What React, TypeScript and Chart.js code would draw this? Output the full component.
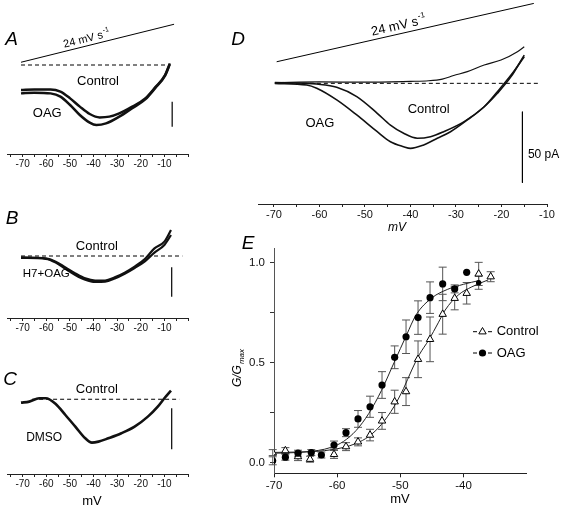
import React, { useEffect, useRef } from "react";
import { Chart, registerables } from "chart.js";

Chart.register(...registerables);

type Pt = [number, number];
const FONT = '"Liberation Sans", Arial, Helvetica, sans-serif';

// ---------- Panel A : current (pA) vs ramp potential (mV) ----------
const A_CONTROL: Pt[] = [
  [-70.7, -20], [-65, -19.5], [-58.2, -19.5], [-54, -21.3], [-49.9, -26.7], [-45.8, -33.3],
  [-41.6, -39.2], [-37.4, -41.9], [-33.3, -41.3], [-29.1, -38.7], [-23.6, -33.3], [-18.1, -26.7],
  [-13.9, -17.9], [-9.7, -8], [-7.7, 1.3],
];
const A_OAG: Pt[] = [
  [-70.7, -22.7], [-65, -22.1], [-58.2, -22.7], [-54, -25.3], [-49.9, -32], [-45.8, -40],
  [-41.6, -46.1], [-38.8, -48], [-34.7, -46.7], [-29.1, -41.3], [-23.6, -34.5], [-18.1, -27.5],
  [-13.9, -18.5], [-9.7, -8.5], [-7.7, 0.5],
];
const A_BASELINE: Pt[] = [[-70.7, 0], [-8.4, 0]];
const A_RAMP: Pt[] = [[-70.7, 2.2], [-5.9, 32.6]];
const A_SCALEBAR: Pt[] = [[-6.7, -29.4], [-6.7, -49.4]];

// ---------- Panel B ----------
const B_CONTROL: Pt[] = [
  [-70.7, -1.1], [-60.2, -1.9], [-56, -4.5], [-51.9, -9.1], [-47.7, -13.9], [-43.5, -17.9],
  [-39.3, -19.6], [-35.1, -19.6], [-31, -17.1], [-26.8, -13.3], [-22.6, -8.5], [-18.4, -2.7],
  [-14.2, 6.1], [-10, 11.5], [-7.2, 20.8],
];
const B_H7_OAG: Pt[] = [
  [-70.7, -1.5], [-60.2, -2.3], [-56, -5.2], [-51.9, -10.3], [-47.7, -15.2], [-43.5, -19],
  [-39.3, -20.8], [-35.1, -20.6], [-31, -18], [-26.8, -14.2], [-22.6, -9.6], [-18.4, -4.5],
  [-14.2, 2.7], [-10, 8.8], [-7.2, 16.8],
];
const B_BASELINE: Pt[] = [[-70.7, 0], [-2.4, 0]];
const B_SCALEBAR: Pt[] = [[-6.9, -9], [-6.9, -32.6]];

// ---------- Panel C ----------
const C_DMSO: Pt[] = [
  [-70.7, -2.7], [-67.2, -1.9], [-63, 0.8], [-60.2, 0.8], [-56, -3.8], [-51.9, -12.6],
  [-47.7, -21.9], [-43.5, -31.2], [-40.7, -34.7], [-37.9, -33.9], [-33.7, -31.2], [-28.2, -27.2],
  [-22.6, -21.9], [-17, -13.9], [-12.8, -5.9], [-10, 0.8], [-7.2, 6.9],
];
const C_BASELINE: Pt[] = [[-66, 0], [-3.7, 0]];
const C_SCALEBAR: Pt[] = [[-6.9, -7.2], [-6.9, -40]];

// ---------- Panel D ----------
const D_CONTROL: Pt[] = [
  [-69.8, 0.5], [-62.8, 0], [-60.6, -0.5], [-56.2, -2.8], [-51.8, -9.4], [-47.3, -21.1],
  [-44.4, -29.4], [-41.5, -35.2], [-38.5, -38.7], [-35.6, -37.6], [-32.7, -34.1], [-28.2, -27],
  [-23.8, -16.5], [-20.9, -7], [-17.9, 4.7], [-15.0, 19.9],
];
const D_OAG: Pt[] = [
  [-69.8, 0], [-62.8, -1.2], [-60.6, -3.5], [-56.2, -11.7], [-51.8, -22.3], [-47.3, -34.1],
  [-44.4, -41.1], [-41.5, -44.6], [-40.0, -45.8], [-37.1, -43.4], [-34.1, -38.7], [-31.2, -34.1],
  [-27.5, -25.8], [-23.8, -16.5], [-20.9, -5.9], [-17.9, 5.8], [-15.0, 18.7],
];
const D_UPPER: Pt[] = [
  [-69.8, 0.5], [-60, 1], [-50, 0.8], [-40, 1.4], [-36, 1.8], [-33, 3], [-30.5, 5.5], [-27.5, 8.2],
  [-23.8, 12.9], [-20.1, 16.4], [-16.5, 22.3], [-15.0, 25.8],
];
const D_BASELINE: Pt[] = [[-69.8, 0], [-11.7, 0]];
const D_RAMP: Pt[] = [[-69.4, 15.2], [-12.9, 56.3]];
const D_SCALEBAR: Pt[] = [[-15.4, -20], [-15.4, -70]];

// ---------- Panel E : G/Gmax vs mV ----------
const E_CTRL_MV = [-70.2, -68.2, -66.2, -64.3, -60.5, -58.6, -56.7, -54.8, -52.9, -50.9, -49.1, -47.2, -45.3, -43.3, -41.4, -39.5, -37.6, -35.7];
const E_CTRL_G = [0.049, 0.059, 0.029, 0.016, 0.04, 0.079, 0.103, 0.137, 0.208, 0.304, 0.355, 0.517, 0.617, 0.743, 0.823, 0.848, 0.945, 0.931];
const E_CTRL_SEM = [0.015, 0.015, 0.02, 0.015, 0.02, 0.02, 0.02, 0.029, 0.042, 0.058, 0.07, 0.092, 0.112, 0.1, 0.058, 0.054, 0.058, 0.025];
const E_OAG_MV = [-70.2, -68.2, -66.2, -64.1, -62.5, -60.5, -58.6, -56.7, -54.8, -52.9, -50.9, -49.1, -47.2, -45.3, -43.3, -41.4, -39.5, -37.6];
const E_OAG_G = [0.008, 0.026, 0.046, 0.049, 0.037, 0.087, 0.149, 0.218, 0.279, 0.388, 0.527, 0.63, 0.726, 0.826, 0.895, 0.87, 0.953, 0.901];
const E_OAG_SEM = [0.02, 0.015, 0.015, 0.015, 0.015, 0.02, 0.02, 0.042, 0.053, 0.067, 0.057, 0.084, 0.084, 0.079, 0.084, 0.02, 0, 0.033];
const E_OAG_FIT: Pt[] = [
  [-70, 0.046], [-66, 0.05], [-63, 0.06], [-61, 0.075], [-59, 0.105], [-57, 0.16], [-55, 0.245],
  [-53, 0.36], [-51, 0.5], [-49, 0.64], [-47.5, 0.74], [-45, 0.825], [-42.5, 0.868], [-40, 0.893], [-37.5, 0.912],
];
const E_CTRL_FIT: Pt[] = [
  [-70, 0.05], [-66, 0.052], [-63, 0.056], [-61, 0.063], [-59, 0.075], [-57, 0.095], [-55, 0.13],
  [-53, 0.19], [-51, 0.28], [-49.5, 0.37], [-48.2, 0.463], [-47, 0.54], [-45.5, 0.614], [-44, 0.7],
  [-42.9, 0.764], [-40.8, 0.84], [-38.7, 0.88], [-36.1, 0.915],
];

// ---------- tick values ----------
const ABC_TICKS = [-75, -70, -65, -60, -55, -50, -45, -40, -35, -30, -25, -20, -15, -10, -5, 0];
const ABC_LABELS = [-70, -60, -50, -40, -30, -20, -10];
const D_TICKS = [-70, -65, -60, -55, -50, -45, -40, -35, -30, -25, -20, -15, -10];
const D_LABELS = [-70, -60, -50, -40, -30, -20, -10];
const E_X_TICKS = [-70, -60, -50, -40];
const E_Y_TICKS = [0, 0.25, 0.5, 0.75, 1];
const E_Y_LABELS = [0, 0.5, 1];

// ---------- helpers ----------
interface Box { left: number; top: number; width: number; height: number }
interface Note {
  text: string; sup?: string; sub?: string; x: number; y: number; page?: boolean; size: number;
  italic?: boolean; align?: "left" | "center" | "right"; rotate?: number; along?: Pt[];
}

const xy = (pts: Pt[]) => pts.map(([x, y]) => ({ x, y }));
const zip = (a: number[], b: number[]) => a.map((x, i) => ({ x, y: b[i] }));
const has = (list: number[], v: number) => list.some((l) => Math.abs(l - v) < 1e-6);

function line(pts: Pt[], extra: any = {}) {
  return {
    type: "line", data: xy(pts), borderColor: "#000", borderWidth: 1, pointRadius: 0,
    fill: false, tension: 0, ...extra,
  };
}
function trace(pts: Pt[], w: number) {
  return line(pts, { borderWidth: w, cubicInterpolationMode: "monotone", borderColor: "#111" });
}

function notesPlugin(box: Box, notes: Note[]) {
  return {
    id: "notes",
    afterDraw(chart: any) {
      const ctx = chart.ctx;
      const xs = chart.scales.x, ys = chart.scales.y;
      notes.forEach((n) => {
        const px = n.page ? n.x - box.left : xs.getPixelForValue(n.x);
        const py = n.page ? n.y - box.top : ys.getPixelForValue(n.y);
        let ang = ((n.rotate || 0) * Math.PI) / 180;
        if (n.along) {
          const [p0, p1] = n.along;
          ang = Math.atan2(
            ys.getPixelForValue(p1[1]) - ys.getPixelForValue(p0[1]),
            xs.getPixelForValue(p1[0]) - xs.getPixelForValue(p0[0])
          );
        }
        const f = (s: number) => `${n.italic ? "italic " : ""}${s}px ${FONT}`;
        const small = Math.round(n.size * 0.65);
        ctx.save();
        ctx.translate(px, py);
        ctx.rotate(ang);
        ctx.fillStyle = "#000";
        ctx.textBaseline = "middle";
        ctx.textAlign = "left";
        ctx.font = f(n.size);
        const w1 = ctx.measureText(n.text).width;
        const extra = n.sup || n.sub || "";
        ctx.font = f(small);
        const w2 = extra ? ctx.measureText(extra).width + 1 : 0;
        const total = w1 + w2;
        const x0 = n.align === "left" ? 0 : n.align === "right" ? -total : -total / 2;
        ctx.font = f(n.size);
        ctx.fillText(n.text, x0, 0);
        if (extra) {
          ctx.font = f(small);
          ctx.fillText(extra, x0 + w1 + 1, n.sup ? -n.size * 0.38 : n.size * 0.32);
        }
        ctx.restore();
      });
    },
  };
}

function xAxis(min: number, max: number, ticks: number[], labels: number[], height: number, size: number, tickLen: number, pad: number) {
  return {
    type: "linear", position: "bottom", min, max,
    afterBuildTicks: (s: any) => { s.ticks = ticks.map((v) => ({ value: v })); },
    afterFit: (s: any) => { s.height = height; },
    grid: { drawOnChartArea: false, drawTicks: true, tickLength: tickLen, tickColor: "#222", color: "#222" },
    border: { display: true, color: "#222", width: 1 },
    ticks: {
      autoSkip: false, maxRotation: 0, minRotation: 0, padding: pad, color: "#111",
      font: { family: FONT, size },
      callback: (v: number) => (has(labels, v) ? String(v) : ""),
    },
  };
}

function baseOptions(box: Box, area: { l: number; r: number; t: number }, yLeftWidth = 0) {
  return {
    animation: false, responsive: false, maintainAspectRatio: false, events: [],
    layout: {
      padding: {
        left: area.l - box.left - yLeftWidth, top: area.t - box.top,
        right: box.left + box.width - area.r, bottom: 0,
      },
    },
    plugins: { legend: { display: false }, tooltip: { enabled: false } },
  };
}

function tracePanel(box: Box, area: any, xr: Pt, yr: Pt, ticks: number[], labels: number[], fontSize: number,
  tickLen: number, pad: number, datasets: any[], notes: Note[]) {
  return {
    type: "line",
    data: { datasets },
    options: {
      ...baseOptions(box, area),
      scales: {
        x: xAxis(xr[0], xr[1], ticks, labels, box.top + box.height - area.b, fontSize, tickLen, pad),
        y: { type: "linear", display: false, min: yr[0], max: yr[1] },
      },
    },
    plugins: [notesPlugin(box, notes)],
  };
}

// ---------- panel definitions ----------
const BOX_A: Box = { left: 0, top: 0, width: 200, height: 178 };
const BOX_B: Box = { left: 0, top: 190, width: 200, height: 150 };
const BOX_C: Box = { left: 0, top: 340, width: 200, height: 168 };
const BOX_D: Box = { left: 225, top: 0, width: 341, height: 235 };
const BOX_E: Box = { left: 215, top: 228, width: 351, height: 280 };

const LETTER = 19;

const configA = () =>
  tracePanel(BOX_A, { l: 7.3, r: 188, t: 10, b: 154 }, [-76.5, 0], [-71.2, 44], ABC_TICKS, ABC_LABELS, 10, 3, 1.5,
    [trace(A_OAG, 2.5), trace(A_CONTROL, 2.5), line(A_BASELINE, { borderDash: [4, 3] }), line(A_RAMP),
      line(A_SCALEBAR, { borderWidth: 1.2 })],
    [
      { text: "A", x: 11.5, y: 40, page: true, size: LETTER, italic: true },
      { text: "24 mV s", sup: "-1", x: -42.9, y: 20.8, size: 11, along: A_RAMP },
      { text: "Control", x: -38.1, y: -12.8, size: 13 },
      { text: "OAG", x: -59.6, y: -38.6, size: 13 },
    ]);

const configB = () =>
  tracePanel(BOX_B, { l: 7.3, r: 188, t: 205, b: 318 }, [-76.5, 0], [-49.6, 40.8], ABC_TICKS, ABC_LABELS, 10, 3, 1.5,
    [trace(B_CONTROL, 2.2), trace(B_H7_OAG, 2.2), line(B_BASELINE, { borderDash: [4, 3] }),
      line(B_SCALEBAR, { borderWidth: 1.2 })],
    [
      { text: "B", x: 12, y: 219, page: true, size: LETTER, italic: true },
      { text: "Control", x: -38.6, y: 7.4, size: 13 },
      { text: "H7+OAG", x: -60, y: -14.6, size: 11.5 },
    ]);

const configC = () =>
  tracePanel(BOX_C, { l: 7.3, r: 188, t: 350, b: 474 }, [-76.5, 0], [-59.8, 39.4], ABC_TICKS, ABC_LABELS, 10, 3, 1.5,
    [trace(C_DMSO, 2.6), line(C_BASELINE, { borderDash: [4, 3] }), line(C_SCALEBAR, { borderWidth: 1.2 })],
    [
      { text: "C", x: 10, y: 380, page: true, size: LETTER, italic: true },
      { text: "Control", x: -38.6, y: 8, size: 13 },
      { text: "DMSO", x: -60.9, y: -30.4, size: 12 },
      { text: "mV", x: 92, y: 501, page: true, size: 13 },
    ]);

const configD = () =>
  tracePanel(BOX_D, { l: 258, r: 547, t: 0, b: 204 }, [-73.5, -10], [-85, 58.7], D_TICKS, D_LABELS, 11, 3, 1.5,
    [trace(D_OAG, 1.6), trace(D_CONTROL, 1.6), trace(D_UPPER, 1.2), line(D_BASELINE, { borderDash: [4, 3] }),
      line(D_RAMP), line(D_SCALEBAR, { borderWidth: 1 })],
    [
      { text: "D", x: 238, y: 40, page: true, size: LETTER, italic: true },
      { text: "24 mV s", sup: "-1", x: -42.6, y: 40.4, size: 13, along: D_RAMP },
      { text: "Control", x: -36, y: -18.3, size: 13 },
      { text: "OAG", x: -59.9, y: -28.2, size: 13 },
      { text: "50 pA", x: -14.2, y: -50.5, size: 12, align: "left" },
      { text: "mV", x: 397, y: 228, page: true, size: 12, italic: true },
    ]);

function errorBarPlugin() {
  const groups = [
    { mv: E_CTRL_MV, g: E_CTRL_G, e: E_CTRL_SEM },
    { mv: E_OAG_MV, g: E_OAG_G, e: E_OAG_SEM },
  ];
  return {
    id: "errbars",
    beforeDatasetsDraw(chart: any) {
      const ctx = chart.ctx;
      const xs = chart.scales.x, ys = chart.scales.y;
      ctx.save();
      ctx.strokeStyle = "#555";
      ctx.lineWidth = 1;
      groups.forEach(({ mv, g, e }) => {
        mv.forEach((v, i) => {
          if (!e[i]) return;
          const px = xs.getPixelForValue(v);
          const hi = ys.getPixelForValue(g[i] + e[i]);
          const lo = ys.getPixelForValue(g[i] - e[i]);
          ctx.beginPath();
          ctx.moveTo(px, hi); ctx.lineTo(px, lo);
          ctx.moveTo(px - 4, hi); ctx.lineTo(px + 4, hi);
          ctx.moveTo(px - 4, lo); ctx.lineTo(px + 4, lo);
          ctx.stroke();
        });
      });
      ctx.restore();
    },
  };
}

function legendPlugin(box: Box) {
  const rows = [
    { label: "Control", y: 331.7, kind: "tri" },
    { label: "OAG", y: 353, kind: "dot" },
  ];
  return {
    id: "elegend",
    afterDraw(chart: any) {
      const ctx = chart.ctx;
      ctx.save();
      rows.forEach((r) => {
        const y = r.y - box.top;
        const x = 473 - box.left;
        ctx.strokeStyle = "#000";
        ctx.lineWidth = 1;
        ctx.beginPath();
        ctx.moveTo(x, y); ctx.lineTo(x + 4, y);
        ctx.moveTo(x + 15, y); ctx.lineTo(x + 19, y);
        ctx.stroke();
        const cx = x + 9.5;
        ctx.beginPath();
        if (r.kind === "tri") {
          ctx.moveTo(cx, y - 4.2);
          ctx.lineTo(cx + 3.7, y + 2.2);
          ctx.lineTo(cx - 3.7, y + 2.2);
          ctx.closePath();
          ctx.fillStyle = "#fff";
          ctx.fill();
          ctx.stroke();
        } else {
          ctx.arc(cx, y, 3.6, 0, Math.PI * 2);
          ctx.fillStyle = "#000";
          ctx.fill();
        }
        ctx.fillStyle = "#000";
        ctx.font = `13px ${FONT}`;
        ctx.textBaseline = "middle";
        ctx.textAlign = "left";
        ctx.fillText(r.label, x + 23.7, y);
      });
      ctx.restore();
    },
  };
}

const configE = () => {
  const area = { l: 274, r: 526.7, t: 248, b: 473.3 };
  const yW = 35;
  return {
    type: "line",
    data: {
      datasets: [
        {
          type: "line", data: zip(E_OAG_MV, E_OAG_G), showLine: false, pointStyle: "circle",
          pointRadius: (c: any) => (c.dataIndex === E_OAG_MV.length - 1 ? 2.7 : 3.6),
          pointBackgroundColor: "#000", pointBorderColor: "#000", pointBorderWidth: 0,
        },
        {
          type: "line", data: zip(E_CTRL_MV, E_CTRL_G), showLine: false, pointStyle: "triangle",
          pointRadius: 4.3, pointBackgroundColor: "#fff", pointBorderColor: "#000", pointBorderWidth: 1,
        },
        line(E_OAG_FIT, { cubicInterpolationMode: "monotone", borderColor: "#222" }),
        line(E_CTRL_FIT, { cubicInterpolationMode: "monotone", borderColor: "#222" }),
      ],
    },
    options: {
      ...baseOptions(BOX_E, area, yW),
      scales: {
        x: xAxis(-70, -30, E_X_TICKS, E_X_TICKS, BOX_E.top + BOX_E.height - area.b, 11.5, 4, 2),
        y: {
          type: "linear", position: "left", min: -0.0547, max: 1.075,
          afterBuildTicks: (s: any) => { s.ticks = E_Y_TICKS.map((v) => ({ value: v })); },
          afterFit: (s: any) => { s.width = yW; },
          grid: { drawOnChartArea: false, drawTicks: true, tickLength: 4, tickColor: "#333", color: "#333" },
          border: { display: true, color: "#555", width: 1 },
          ticks: {
            autoSkip: false, padding: 5, color: "#111", font: { family: FONT, size: 11.5 },
            callback: (v: number) => (has(E_Y_LABELS, v) ? v.toFixed(1) : ""),
          },
        },
      },
    },
    plugins: [
      errorBarPlugin(),
      legendPlugin(BOX_E),
      notesPlugin(BOX_E, [
        { text: "E", x: 248, y: 244, page: true, size: LETTER, italic: true },
        { text: "mV", x: 400, y: 499, page: true, size: 13 },
        { text: "G/G", sub: "max", x: 238, y: 368, page: true, size: 12, italic: true, rotate: -90 },
      ]),
    ],
  };
};

function ChartBox({ box, make }: { box: Box; make: () => any }) {
  const ref = useRef<HTMLCanvasElement>(null);
  useEffect(() => {
    const chart = new Chart(ref.current as HTMLCanvasElement, make());
    return () => chart.destroy();
  }, []);
  return (
    <canvas
      ref={ref}
      width={box.width}
      height={box.height}
      style={{ position: "absolute", left: box.left, top: box.top, width: box.width, height: box.height }}
    />
  );
}

export default function App() {
  return (
    <div style={{ position: "absolute", left: 0, top: 0, width: 566, height: 508, overflow: "hidden", background: "#fff" }}>
      <ChartBox box={BOX_A} make={configA} />
      <ChartBox box={BOX_B} make={configB} />
      <ChartBox box={BOX_C} make={configC} />
      <ChartBox box={BOX_D} make={configD} />
      <ChartBox box={BOX_E} make={configE} />
    </div>
  );
}
